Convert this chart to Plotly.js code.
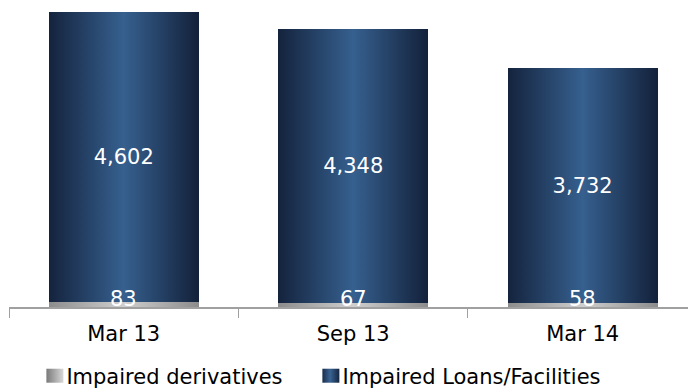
<!DOCTYPE html>
<html>
<head>
<meta charset="utf-8">
<script src="https://cdn.plot.ly/plotly-3.0.1.min.js"></script>
<style>
html,body{margin:0;padding:0;background:#fff;}
#chart{width:688px;height:389px;}
</style>
</head>
<body>
<div id="chart"></div>
<script>
const categories = ["Mar 13", "Sep 13", "Mar 14"];
const derivatives = [83, 67, 58];
const loans = [4602, 4348, 3732];
const seriesNames = ["Impaired derivatives", "Impaired Loans/Facilities"];

const fmt = v => v.toLocaleString("en-US");
const FONT = "DejaVu Sans, Verdana, sans-serif";

const data = [
  {
    type: "bar", name: seriesNames[0], x: categories, y: derivatives,
    marker: {color: "#b0b0b0", line: {width: 0}},
    width: 0.654, hoverinfo: "skip", textposition: "none"
  },
  {
    type: "bar", name: seriesNames[1], x: categories, y: loans,
    marker: {color: "#2a4670", line: {width: 0}},
    width: 0.654, hoverinfo: "skip",
    text: loans.map(fmt), textposition: "inside", insidetextanchor: "middle",
    textfont: {color: "#ffffff", size: 21, family: FONT},
    constraintext: "none"
  }
];

const annotations = categories.map((c, i) => ({
  x: c, y: 0, xref: "x", yref: "y", text: fmt(derivatives[i]),
  showarrow: false, yanchor: "middle", yshift: 8,
  font: {color: "#ffffff", size: 21, family: FONT}
}));

const layout = {
  width: 688, height: 389,
  margin: {l: 9, r: 0, t: 0, b: 82, pad: 0, autoexpand: false},
  paper_bgcolor: "#ffffff", plot_bgcolor: "#ffffff",
  barmode: "stack",
  showlegend: true,
  legend: {
    orientation: "h", x: 0.0256, xanchor: "left", y: -0.225, yanchor: "middle",
    font: {size: 21, family: FONT, color: "#000000"},
    traceorder: "normal", entrywidth: 231, entrywidthmode: "pixels",
    itemclick: false, itemdoubleclick: false
  },
  xaxis: {
    range: [-0.5, 2.459], fixedrange: true,
    showline: true, linecolor: "#a0a0a0", linewidth: 2,
    ticks: "outside", tickson: "boundaries", ticklen: 9, tickcolor: "#a0a0a0", tickwidth: 1,
    ticklabelstandoff: 7,
    tickfont: {size: 21, family: FONT, color: "#000000"},
    showgrid: false, zeroline: false
  },
  yaxis: {
    range: [0, 4875], visible: false, showgrid: false, zeroline: false, fixedrange: true
  },
  annotations: annotations,
  font: {family: FONT}
};

function addGradients(gd) {
  const NS = "http://www.w3.org/2000/svg";
  const svg = gd.querySelector("svg.main-svg");
  let defs = svg.querySelector("defs");
  if (!defs) { defs = document.createElementNS(NS, "defs"); svg.insertBefore(defs, svg.firstChild); }
  const mk = (id, stops) => {
    const g = document.createElementNS(NS, "linearGradient");
    g.setAttribute("id", id);
    g.setAttribute("x1", "0"); g.setAttribute("y1", "0");
    g.setAttribute("x2", "1"); g.setAttribute("y2", "0");
    stops.forEach(([o, c]) => {
      const s = document.createElementNS(NS, "stop");
      s.setAttribute("offset", o); s.setAttribute("stop-color", c);
      g.appendChild(s);
    });
    defs.appendChild(g);
  };
  mk("gradLoans", [["0", "#14233d"], ["0.5", "#36608f"], ["1", "#13213a"]]);
  mk("gradDeriv", [["0", "#8c8c8c"], ["0.5", "#cfcfcf"], ["1", "#8c8c8c"]]);
  mk("gradDerivLeg", [["0", "#7a7a7a"], ["1", "#d8d8d8"]]);
  mk("gradLoansLeg", [["0", "#1a2d4c"], ["0.45", "#3a6494"], ["1", "#142440"]]);
  const traces = gd.querySelectorAll(".barlayer .trace");
  const ids = ["gradDeriv", "gradLoans"];
  const legIds = ["gradDerivLeg", "gradLoansLeg"];
  traces.forEach((t, i) => {
    t.querySelectorAll("path").forEach(p => { p.style.fill = "url(#" + ids[i] + ")"; });
  });
  const leg = gd.querySelectorAll(".legend .traces");
  leg.forEach((t, i) => {
    t.querySelectorAll(".legendpoints path").forEach(p => {
      p.setAttribute("d", "M17,7H0V-7H17Z");
      p.style.fill = "url(#" + legIds[i] + ")";
      p.style.stroke = "none";
    });
  });
  gd.querySelectorAll(".legend [clip-path], .legend[clip-path]").forEach(el => el.removeAttribute("clip-path"));
}

const gd = document.getElementById("chart");
Plotly.newPlot(gd, data, layout, {staticPlot: true, displayModeBar: false}).then(() => addGradients(gd));
</script>
</body>
</html>
